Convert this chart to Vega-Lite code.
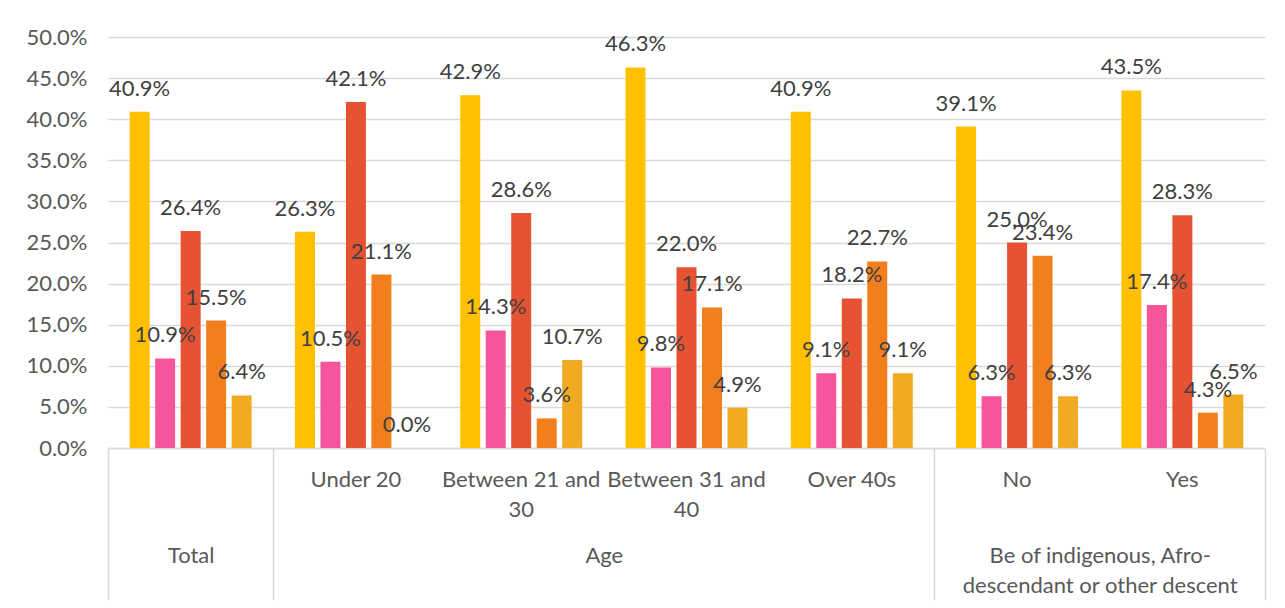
{
  "$schema": "https://vega.github.io/schema/vega-lite/v6.json",
  "autosize": "none",
  "width": 1157,
  "height": 411,
  "padding": {"left": 108, "top": 37, "right": 20, "bottom": 160},
  "background": "white",
  "config": {
    "view": {"stroke": null},
    "font": "Lato",
    "axis": {"labelFont": "Lato", "labelFontSize": 22, "labelColor": "#595959"}
  },
  "datasets": {
    "bars": [
      {"category": "Total", "series": "S1", "value": 0.409},
      {"category": "Total", "series": "S2", "value": 0.109},
      {"category": "Total", "series": "S3", "value": 0.264},
      {"category": "Total", "series": "S4", "value": 0.155},
      {"category": "Total", "series": "S5", "value": 0.064},
      {"category": "Under 20", "series": "S1", "value": 0.263},
      {"category": "Under 20", "series": "S2", "value": 0.105},
      {"category": "Under 20", "series": "S3", "value": 0.421},
      {"category": "Under 20", "series": "S4", "value": 0.211},
      {"category": "Under 20", "series": "S5", "value": 0.0},
      {"category": "Between 21 and 30", "series": "S1", "value": 0.429},
      {"category": "Between 21 and 30", "series": "S2", "value": 0.143},
      {"category": "Between 21 and 30", "series": "S3", "value": 0.286},
      {"category": "Between 21 and 30", "series": "S4", "value": 0.036},
      {"category": "Between 21 and 30", "series": "S5", "value": 0.107},
      {"category": "Between 31 and 40", "series": "S1", "value": 0.463},
      {"category": "Between 31 and 40", "series": "S2", "value": 0.098},
      {"category": "Between 31 and 40", "series": "S3", "value": 0.22},
      {"category": "Between 31 and 40", "series": "S4", "value": 0.171},
      {"category": "Between 31 and 40", "series": "S5", "value": 0.049},
      {"category": "Over 40s", "series": "S1", "value": 0.409},
      {"category": "Over 40s", "series": "S2", "value": 0.091},
      {"category": "Over 40s", "series": "S3", "value": 0.182},
      {"category": "Over 40s", "series": "S4", "value": 0.227},
      {"category": "Over 40s", "series": "S5", "value": 0.091},
      {"category": "No", "series": "S1", "value": 0.391},
      {"category": "No", "series": "S2", "value": 0.063},
      {"category": "No", "series": "S3", "value": 0.25},
      {"category": "No", "series": "S4", "value": 0.234},
      {"category": "No", "series": "S5", "value": 0.063},
      {"category": "Yes", "series": "S1", "value": 0.435},
      {"category": "Yes", "series": "S2", "value": 0.174},
      {"category": "Yes", "series": "S3", "value": 0.283},
      {"category": "Yes", "series": "S4", "value": 0.043},
      {"category": "Yes", "series": "S5", "value": 0.065}
    ]
  },
  "layer": [
    {
      "data": {"name": "bars"},
      "encoding": {
        "x": {
          "field": "category", "type": "nominal", "sort": null,
          "scale": {"paddingInner": 0, "paddingOuter": 0},
          "axis": {
            "title": null, "orient": "bottom", "ticks": false,
            "domainColor": "#d9d9d9", "domainWidth": 1.5,
            "labelPadding": 21, "labelAngle": 0, "labelLineHeight": 30,
            "labelLimit": 0, "labelOverlap": false,
            "labelExpr": "datum.label == 'Total' ? '' : datum.label == 'Between 21 and 30' ? ['Between 21 and', '30'] : datum.label == 'Between 31 and 40' ? ['Between 31 and', '40'] : datum.label"
          }
        },
        "xOffset": {
          "field": "series", "type": "nominal", "sort": null,
          "scale": {"paddingInner": 0.216, "paddingOuter": 0.85}
        },
        "y": {
          "field": "value", "type": "quantitative",
          "scale": {"domain": [0, 0.5], "nice": false},
          "axis": {
            "title": null, "format": ".1%",
            "values": [0, 0.05, 0.1, 0.15, 0.2, 0.25, 0.3, 0.35, 0.4, 0.45, 0.5],
            "ticks": false, "domain": false,
            "gridColor": "#d9d9d9", "gridWidth": 1.3, "labelPadding": 21
          }
        }
      },
      "layer": [
        {
          "mark": {"type": "bar"},
          "encoding": {
            "color": {
              "field": "series", "type": "nominal", "sort": null,
              "scale": {"range": ["#FFC000", "#F7559B", "#E55332", "#F17F1C", "#F0AB22"]},
              "legend": null
            }
          }
        },
        {
          "mark": {"type": "text", "baseline": "middle", "dy": -23, "fontSize": 22, "color": "#404040", "font": "Lato"},
          "encoding": {"text": {"field": "value", "type": "quantitative", "format": ".1%"}}
        }
      ]
    },
    {
      "data": {"values": [
        {"group": "Total", "mid": 0.5},
        {"group": "Age", "mid": 3},
        {"group": "Be of indigenous, Afro-descendant or other descent", "mid": 6}
      ]},
      "mark": {"type": "point", "opacity": 0},
      "encoding": {
        "x": {
          "field": "mid", "type": "quantitative",
          "scale": {"domain": [0, 7], "nice": false, "zero": false},
          "axis": {
            "orient": "bottom", "title": null, "values": [0.5, 3, 6],
            "ticks": false, "domain": false, "grid": false,
            "labelPadding": 97, "labelFlush": false, "labelOverlap": false,
            "labelLimit": 0, "labelLineHeight": 30,
            "labelExpr": "datum.value == 0.5 ? 'Total' : datum.value == 3 ? 'Age' : ['Be of indigenous, Afro-', 'descendant or other descent']"
          }
        }
      }
    },
    {
      "data": {"values": [{"edge": 0}, {"edge": 1}, {"edge": 5}, {"edge": 7}]},
      "mark": {"type": "point", "opacity": 0},
      "encoding": {
        "x": {
          "field": "edge", "type": "quantitative",
          "scale": {"domain": [0, 7], "nice": false, "zero": false},
          "axis": {
            "orient": "bottom", "title": null, "values": [0, 1, 5, 7],
            "labels": false, "domain": false, "grid": false,
            "tickSize": 152, "tickColor": "#d9d9d9", "tickWidth": 1.5
          }
        }
      }
    }
  ],
  "resolve": {"scale": {"x": "independent"}, "axis": {"x": "independent"}}
}
